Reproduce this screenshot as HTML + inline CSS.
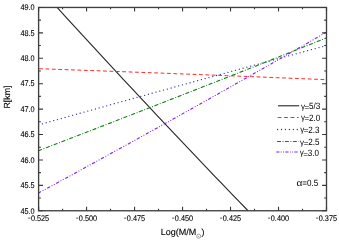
<!DOCTYPE html>
<html><head><meta charset="utf-8"><title>chart</title>
<style>
html,body{margin:0;padding:0;background:#fff;}
svg{display:block;}
.txt{filter:grayscale(1);}
text{font-family:"Liberation Sans",sans-serif;text-rendering:geometricPrecision;fill:#000;}
.t{font-size:7.3px;stroke:#000;stroke-width:0.1px;}
.g{font-size:8.1px;}
.a{font-size:8.8px;stroke:#000;stroke-width:0.12px;}
</style></head><body>
<svg width="339" height="240" viewBox="0 0 339 240">
<rect width="339" height="240" fill="#fff"/>
<path d="M57.11 7.45 L65.41 16.54 L73.71 25.61 L82.01 34.65 L90.31 43.68 L98.61 52.67 L106.91 61.65 L115.21 70.60 L123.51 79.54 L131.81 88.44 L140.11 97.33 L148.41 106.19 L156.71 115.03 L165.01 123.85 L173.31 132.64 L181.61 141.41 L189.91 150.16 L198.21 158.88 L206.51 167.58 L214.81 176.26 L223.11 184.92 L231.41 193.55 L239.71 202.16 L248.01 210.75" stroke="#262626" stroke-width="1.1" fill="none"/><path d="M38.60 68.71 L51.12 69.14 L63.63 69.58 L76.15 70.02 L88.67 70.46 L101.19 70.91 L113.70 71.36 L126.22 71.82 L138.74 72.28 L151.26 72.74 L163.77 73.21 L176.29 73.69 L188.81 74.16 L201.33 74.65 L213.84 75.13 L226.36 75.63 L238.88 76.12 L251.40 76.62 L263.91 77.13 L276.43 77.64 L288.95 78.15 L301.47 78.67 L313.98 79.19 L326.50 79.72" stroke="#ff2828" stroke-width="1.0" stroke-dasharray="3.8 2.6" stroke-dashoffset="5.9" fill="none"/><path d="M38.60 124.89 L51.12 121.38 L63.63 117.87 L76.15 114.37 L88.67 110.88 L101.19 107.39 L113.70 103.90 L126.22 100.43 L138.74 96.95 L151.26 93.49 L163.77 90.03 L176.29 86.58 L188.81 83.13 L201.33 79.69 L213.84 76.25 L226.36 72.82 L238.88 69.40 L251.40 65.98 L263.91 62.57 L276.43 59.16 L288.95 55.76 L301.47 52.37 L313.98 48.98 L326.50 45.60" stroke="#2a2aac" stroke-width="1.3" stroke-linecap="round" stroke-dasharray="0.01 3.92" fill="none"/><path d="M38.60 150.66 L51.12 145.85 L63.63 141.04 L76.15 136.22 L88.67 131.39 L101.19 126.55 L113.70 121.70 L126.22 116.84 L138.74 111.97 L151.26 107.10 L163.77 102.21 L176.29 97.32 L188.81 92.41 L201.33 87.50 L213.84 82.58 L226.36 77.65 L238.88 72.71 L251.40 67.76 L263.91 62.80 L276.43 57.83 L288.95 52.86 L301.47 47.87 L313.98 42.88 L326.50 37.87" stroke="#0e820e" stroke-width="1.12" stroke-linecap="round" stroke-dasharray="3.2 2.55 0.01 2.55" fill="none"/><path d="M38.60 192.91 L51.12 186.13 L63.63 179.33 L76.15 172.51 L88.67 165.67 L101.19 158.81 L113.70 151.94 L126.22 145.04 L138.74 138.12 L151.26 131.19 L163.77 124.24 L176.29 117.26 L188.81 110.27 L201.33 103.26 L213.84 96.23 L226.36 89.18 L238.88 82.12 L251.40 75.03 L263.91 67.92 L276.43 60.80 L288.95 53.65 L301.47 46.49 L313.98 39.31 L326.50 32.10" stroke="#8418ff" stroke-width="1.12" stroke-linecap="round" stroke-dasharray="2.4 2.6 0.01 2.6 0.01 2.6" fill="none"/>
<rect x="38.6" y="7.45" width="287.9" height="203.3" fill="none" stroke="#404040" stroke-width="1.35"/><path d="M38.60 210.75v-4.0M38.60 7.45v4.0M62.59 210.75v-1.9M62.59 7.45v1.9M86.58 210.75v-4.0M86.58 7.45v4.0M110.57 210.75v-1.9M110.57 7.45v1.9M134.57 210.75v-4.0M134.57 7.45v4.0M158.56 210.75v-1.9M158.56 7.45v1.9M182.55 210.75v-4.0M182.55 7.45v4.0M206.54 210.75v-1.9M206.54 7.45v1.9M230.53 210.75v-4.0M230.53 7.45v4.0M254.52 210.75v-1.9M254.52 7.45v1.9M278.52 210.75v-4.0M278.52 7.45v4.0M302.51 210.75v-1.9M302.51 7.45v1.9M326.50 210.75v-4.0M326.50 7.45v4.0M38.6 7.45h4.4M326.5 7.45h-4.4M38.6 20.16h2.3M326.5 20.16h-2.3M38.6 32.86h4.4M326.5 32.86h-4.4M38.6 45.57h2.3M326.5 45.57h-2.3M38.6 58.28h4.4M326.5 58.28h-4.4M38.6 70.98h2.3M326.5 70.98h-2.3M38.6 83.69h4.4M326.5 83.69h-4.4M38.6 96.39h2.3M326.5 96.39h-2.3M38.6 109.10h4.4M326.5 109.10h-4.4M38.6 121.81h2.3M326.5 121.81h-2.3M38.6 134.51h4.4M326.5 134.51h-4.4M38.6 147.22h2.3M326.5 147.22h-2.3M38.6 159.93h4.4M326.5 159.93h-4.4M38.6 172.63h2.3M326.5 172.63h-2.3M38.6 185.34h4.4M326.5 185.34h-4.4M38.6 198.04h2.3M326.5 198.04h-2.3M38.6 210.75h4.4M326.5 210.75h-4.4" stroke="#383838" stroke-width="1.1" fill="none"/>
<path d="M278 105.8H299.2" stroke="#262626" stroke-width="1.1" fill="none"/><path d="M277.7 117.5H298.6" stroke="#ff2828" stroke-width="1.0" stroke-dasharray="3.8 2.6" fill="none"/><path d="M277.6 129.5H298.6" stroke="#2a2aac" stroke-width="1.3" stroke-linecap="round" stroke-dasharray="0.01 3.92" fill="none"/><path d="M277.1 141.5H298.6" stroke="#0c800c" stroke-width="1.05" stroke-dasharray="3.9 1.5 1.0 1.5" fill="none"/><path d="M276.3 152.0H298.6" stroke="#8418ff" stroke-width="1.15" stroke-dasharray="3.1 1.4 0.9 1.4 0.9 1.4" fill="none"/>
<g class="txt"><text transform="translate(34.6 10.20) scale(1 1.13)" text-anchor="end" class="t">49.0</text><text transform="translate(34.6 35.61) scale(1 1.13)" text-anchor="end" class="t">48.5</text><text transform="translate(34.6 61.03) scale(1 1.13)" text-anchor="end" class="t">48.0</text><text transform="translate(34.6 86.44) scale(1 1.13)" text-anchor="end" class="t">47.5</text><text transform="translate(34.6 111.85) scale(1 1.13)" text-anchor="end" class="t">47.0</text><text transform="translate(34.6 137.26) scale(1 1.13)" text-anchor="end" class="t">46.5</text><text transform="translate(34.6 162.68) scale(1 1.13)" text-anchor="end" class="t">46.0</text><text transform="translate(34.6 188.09) scale(1 1.13)" text-anchor="end" class="t">45.5</text><text transform="translate(34.6 213.50) scale(1 1.13)" text-anchor="end" class="t">45.0</text><text transform="translate(30.88 220.8) scale(1 1.13)" class="t">0.525</text><path d="M28.10 218.1h2.4" stroke="#333" stroke-width="0.8" fill="none"/><text transform="translate(78.86 220.8) scale(1 1.13)" class="t">0.500</text><path d="M76.08 218.1h2.4" stroke="#333" stroke-width="0.8" fill="none"/><text transform="translate(126.85 220.8) scale(1 1.13)" class="t">0.475</text><path d="M124.07 218.1h2.4" stroke="#333" stroke-width="0.8" fill="none"/><text transform="translate(174.83 220.8) scale(1 1.13)" class="t">0.450</text><path d="M172.05 218.1h2.4" stroke="#333" stroke-width="0.8" fill="none"/><text transform="translate(222.81 220.8) scale(1 1.13)" class="t">0.425</text><path d="M220.03 218.1h2.4" stroke="#333" stroke-width="0.8" fill="none"/><text transform="translate(270.80 220.8) scale(1 1.13)" class="t">0.400</text><path d="M268.02 218.1h2.4" stroke="#333" stroke-width="0.8" fill="none"/><text transform="translate(318.78 220.8) scale(1 1.13)" class="t">0.375</text><path d="M316.00 218.1h2.4" stroke="#333" stroke-width="0.8" fill="none"/>
<text transform="translate(301.00 108.70)" class="g">&#947;</text><text transform="translate(304.60 109.90) scale(1 0.95)" class="g">=</text><text transform="translate(309.08 109.10) scale(1 1.13)" class="g">5/3</text><text transform="translate(301.00 120.20)" class="g">&#947;</text><text transform="translate(304.60 121.40) scale(1 0.95)" class="g">=</text><text transform="translate(309.08 120.60) scale(1 1.13)" class="g">2.0</text><text transform="translate(300.20 132.20)" class="g">&#947;</text><text transform="translate(303.80 133.40) scale(1 0.95)" class="g">=</text><text transform="translate(308.28 132.60) scale(1 1.13)" class="g">2.3</text><text transform="translate(300.10 144.50)" class="g">&#947;</text><text transform="translate(303.70 145.70) scale(1 0.95)" class="g">=</text><text transform="translate(308.18 144.90) scale(1 1.13)" class="g">2.5</text><text transform="translate(299.70 155.40)" class="g">&#947;</text><text transform="translate(303.30 156.60) scale(1 0.95)" class="g">=</text><text transform="translate(307.78 155.80) scale(1 1.13)" class="g">3.0</text><text transform="translate(296.6 186.3) scale(1.25 1.1)" class="g">&#945;</text><text transform="translate(302.2 186.3) scale(1 1.13)" class="g">=0.5</text>
<text transform="translate(10.2 108.5) rotate(-90)" class="a">R[km]</text><text x="160.8" y="234.8" class="a" style="font-size:9px">Log(M/M</text><circle cx="198.7" cy="236.2" r="2.05" fill="none" stroke="#555" stroke-width="0.55"/><circle cx="198.7" cy="236.2" r="0.5" fill="#666"/><text x="201.5" y="234.8" class="a">)</text></g>
</svg>
</body></html>
